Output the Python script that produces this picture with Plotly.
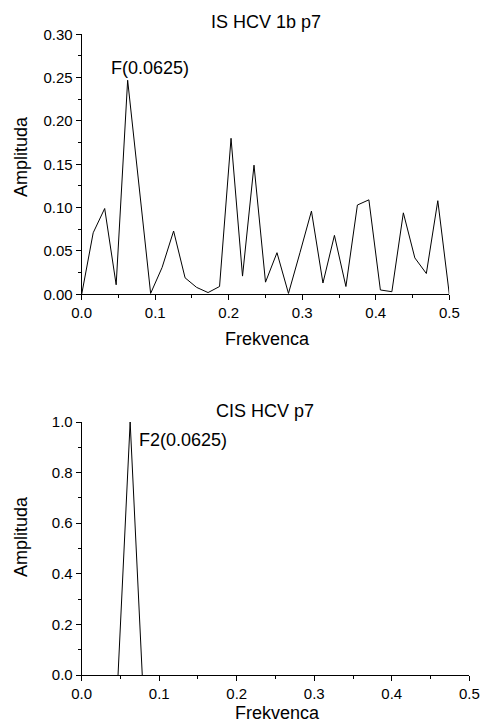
import plotly.graph_objects as go

# Data
freq_top = [i / 64 for i in range(33)]
amp_top = [0.000, 0.071, 0.099, 0.011, 0.247, 0.125, 0.001, 0.031, 0.073, 0.019,
           0.008, 0.002, 0.009, 0.180, 0.021, 0.149, 0.014, 0.048, 0.001, 0.048,
           0.096, 0.013, 0.068, 0.009, 0.103, 0.109, 0.005, 0.003, 0.094, 0.042,
           0.024, 0.108, 0.000]
freq_bottom = [0.046875, 0.0625, 0.078125]
amp_bottom = [0.0, 1.0, 0.0]

title_top = "IS HCV 1b p7"
title_bottom = "CIS HCV p7"
label_top = "F(0.0625)"
label_bottom = "F2(0.0625)"
x_title = "Frekvenca"
y_title = "Amplituda"

W, H = 481, 725
FONT = "Liberation Sans, Arial, sans-serif"

def px_x(p):
    return p / W

def px_y(p):
    return 1 - p / H

fig = go.Figure()
fig.add_trace(go.Scatter(x=freq_top, y=amp_top, mode="lines",
                         line=dict(color="black", width=1), xaxis="x", yaxis="y",
                         showlegend=False))
fig.add_trace(go.Scatter(x=freq_bottom, y=amp_bottom, mode="lines",
                         line=dict(color="black", width=1), xaxis="x2", yaxis="y2",
                         showlegend=False))

common = dict(showline=True, linecolor="black", linewidth=1, showgrid=False,
              zeroline=False, ticks="outside", ticklen=5, tickwidth=1,
              tickcolor="black", tickfont=dict(size=15, color="black", family=FONT),
              automargin=False)

fig.update_layout(
    width=W, height=H,
    margin=dict(l=0, r=0, t=0, b=0),
    paper_bgcolor="white", plot_bgcolor="white",
    font=dict(family=FONT, color="black"),
    xaxis=dict(domain=[px_x(81.7), px_x(449.3)], range=[0, 0.5], dtick=0.1,
               tickformat=".1f", anchor="y",
               minor=dict(dtick=0.05, ticks="outside", ticklen=3, tickcolor="black"),
               **common),
    yaxis=dict(domain=[px_y(294.3), px_y(34.3)], range=[0, 0.30], dtick=0.05,
               tickformat=".2f", anchor="x",
               minor=dict(dtick=0.025, ticks="outside", ticklen=3, tickcolor="black"),
               **common),
    xaxis2=dict(domain=[px_x(81.7), px_x(469.3)], range=[0, 0.5], dtick=0.1,
                tickformat=".1f", anchor="y2",
                minor=dict(dtick=0.05, ticks="outside", ticklen=3, tickcolor="black"),
                **common),
    yaxis2=dict(domain=[px_y(675), px_y(422)], range=[0, 1.0], dtick=0.2,
                tickformat=".1f", anchor="x2",
                minor=dict(dtick=0.1, ticks="outside", ticklen=3, tickcolor="black"),
                **common),
)

def ann(text, x, y, size=18, angle=0, xref="paper", yref="paper"):
    fig.add_annotation(text=text, xref=xref, yref=yref, x=x, y=y, showarrow=False,
                       xanchor="center", yanchor="middle",
                       textangle=angle, font=dict(size=size, family=FONT, color="black"))

# Titles
ann(title_top, px_x(266), px_y(22.5))
ann(title_bottom, px_x(265), px_y(410.5))
# Axis titles
ann(x_title, px_x(267), px_y(339))
ann(x_title, px_x(277), px_y(713))
ann(y_title, px_x(21), px_y(157), angle=-90)
ann(y_title, px_x(21), px_y(537), angle=-90)
# Peak labels
ann(label_top, 0.0925, 0.261, xref="x", yref="y")
ann(label_bottom, 0.1307, 0.927, xref="x2", yref="y2")

fig.write_html("out.html")
